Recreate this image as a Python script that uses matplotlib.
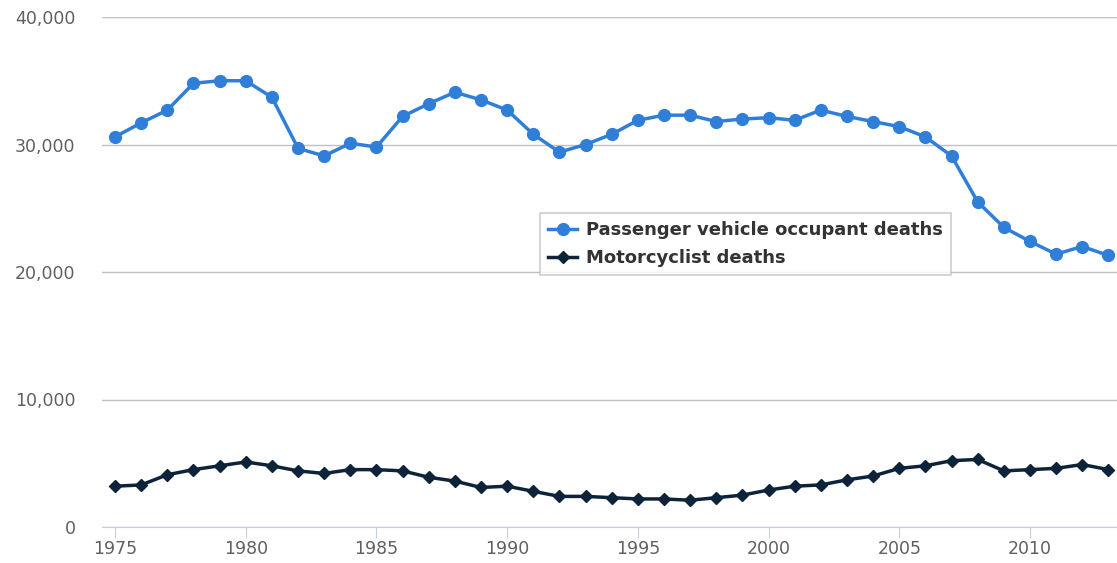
import matplotlib.pyplot as plt
from matplotlib.ticker import FuncFormatter

years = list(range(1975, 2014))
passenger = [30600, 31700, 32700, 34800, 35000, 35000, 33700, 29700, 29100, 30100,
             29800, 32200, 33200, 34100, 33500, 32700, 30800, 29400, 30000, 30800,
             31900, 32300, 32300, 31800, 32000, 32100, 31900, 32700, 32200, 31800,
             31400, 30600, 29100, 25500, 23500, 22400, 21400, 22000, 21300]
motorcycle = [3200, 3300, 4100, 4500, 4800, 5100, 4800, 4400, 4200, 4500,
              4500, 4400, 3900, 3600, 3100, 3200, 2800, 2400, 2400, 2300,
              2200, 2200, 2100, 2300, 2500, 2900, 3200, 3300, 3700, 4000,
              4600, 4800, 5200, 5300, 4400, 4500, 4600, 4900, 4500]

fig = plt.figure(figsize=(11.17, 5.63), dpi=100)
ax = fig.add_axes([102 / 1117, 36 / 563, 1 - 102 / 1117, 510 / 563])

ax.plot(years, passenger, color="#2f7ed8", lw=2.5, marker="o", ms=8.5,
        label="Passenger vehicle occupant deaths", zorder=3)
ax.plot(years, motorcycle, color="#0d233a", lw=2.5, marker="D", ms=6,
        label="Motorcyclist deaths", zorder=3)

ax.set_xlim(1974.5, 2013.33)
ax.set_ylim(0, 40000)
ax.set_yticks([0, 10000, 20000, 30000, 40000])
ax.set_xticks(range(1975, 2014, 5))
ax.yaxis.set_major_formatter(FuncFormatter(lambda v, p: f"{int(v):,}"))
ax.grid(axis="y", color="#c0c0c0", lw=1)
ax.set_axisbelow(True)
for s in ["top", "right", "left"]:
    ax.spines[s].set_visible(False)
ax.spines["bottom"].set_color("#c0d0e0")
ax.tick_params(axis="y", length=0, pad=19, labelsize=12.5, labelcolor="#606060")
ax.tick_params(axis="x", length=8, color="#c0d0e0", labelsize=12.5, labelcolor="#606060", pad=1)

leg = ax.legend(loc="upper left", bbox_to_anchor=(531 / 1117, 1 - 204 / 563),
                bbox_transform=fig.transFigure, frameon=True, fancybox=False,
                prop={"weight": "bold", "size": 13}, handlelength=1.6,
                borderpad=0.45, labelspacing=0.55, handletextpad=0.5)
leg.get_frame().set_edgecolor("#c0c0c0")
leg.get_frame().set_linewidth(1.2)
for t in leg.get_texts():
    t.set_color("#333333")

fig.savefig("out.png", dpi=100)
